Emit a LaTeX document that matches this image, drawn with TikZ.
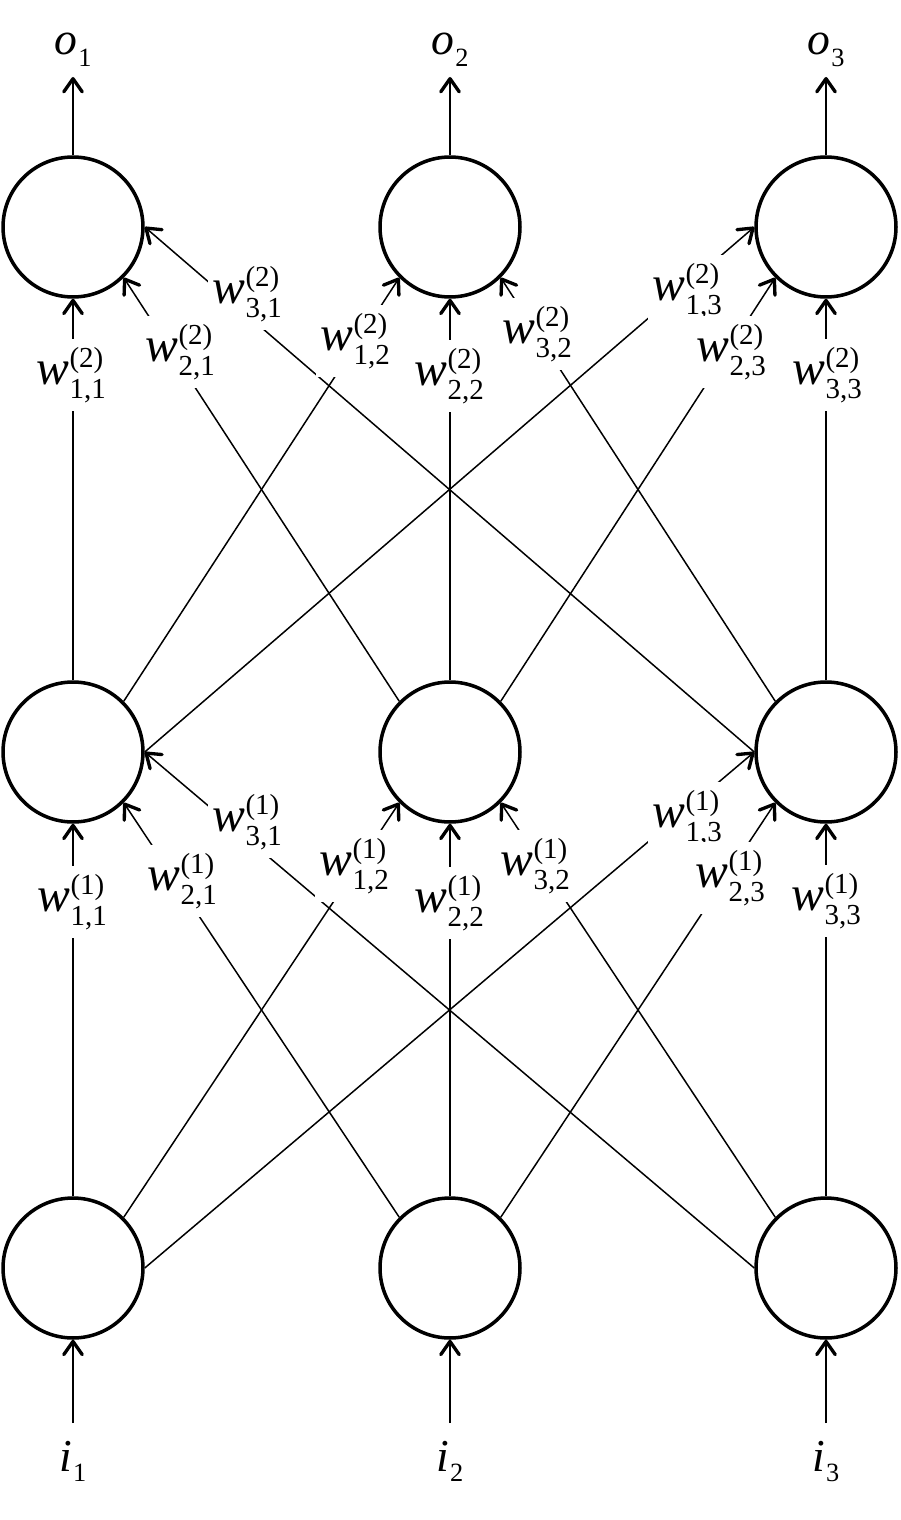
\documentclass[tikz,border=0pt]{standalone}
\usepackage{fontspec}
\setmainfont{Liberation Serif}
\usetikzlibrary{arrows.meta}
\newcommand{\scr}{\fontsize{16.5}{16.5}\selectfont}
\newcommand{\wl}[3]{\textit{w}\kern0.3pt\rlap{\raisebox{9.5pt}{\scr(#1)}}\raisebox{-8pt}{\scr #2,#3}}
\newcommand{\ol}[3]{\textit{#1}\kern0.5pt\raisebox{-#3}{\fontsize{15}{15}\selectfont #2}}
\tikzset{
  neuron/.style={circle, draw, line width=2pt, minimum size=2.8cm, inner sep=0pt},
  conn/.style={line width=0.85pt},
  arr/.style={conn, -{Straight Barb[length=7.5pt,width=10.5pt,line width=1.9pt,round]}},
  wlab/.style={fill=white, inner xsep=2.5pt, inner ysep=5pt, font=\fontsize{28}{34}\selectfont},
  olab/.style={inner xsep=2pt, inner ysep=5.5pt, font=\fontsize{26}{30}\selectfont},
  ilab/.style={inner xsep=2pt, inner ysep=10pt, font=\fontsize{26}{30}\selectfont}
}
\begin{document}
\begin{tikzpicture}[x=0.02cm,y=-0.02cm]
\fill[white] (0,0) rectangle (900,1520);
\useasboundingbox (0,0) rectangle (900,1520);
% neurons
\node[neuron] (t1) at (73,227) {};
\node[neuron] (t2) at (450,227) {};
\node[neuron] (t3) at (826,227) {};
\node[neuron] (m1) at (73,752) {};
\node[neuron] (m2) at (450,752) {};
\node[neuron] (m3) at (826,752) {};
\node[neuron] (b1) at (73,1268) {};
\node[neuron] (b2) at (450,1268) {};
\node[neuron] (b3) at (826,1268) {};
% outputs / inputs
\node[olab, anchor=south] (o1) at (73,77) {\ol{o}{1}{7pt}};
\node[olab, anchor=south] (o2) at (450,77) {\ol{o}{2}{7pt}};
\node[olab, anchor=south] (o3) at (826,77) {\ol{o}{3}{7pt}};
\node[ilab, anchor=north] (i1) at (73,1423) {\ol{i}{1}{5.7pt}};
\node[ilab, anchor=north] (i2) at (450,1423) {\ol{i}{2}{5.7pt}};
\node[ilab, anchor=north] (i3) at (826,1423) {\ol{i}{3}{5.7pt}};
\draw[arr] (t1.north) -- (o1.south);
\draw[arr] (t2.north) -- (o2.south);
\draw[arr] (t3.north) -- (o3.south);
\draw[arr] (i1.north) -- (b1.south);
\draw[arr] (i2.north) -- (b2.south);
\draw[arr] (i3.north) -- (b3.south);
% layer 1
\draw[arr] (b1.north) -- (m1.south);
\draw[arr] (b1.north east) -- (m2.south west);
\draw[arr] (b1.east) -- (m3.west);
\draw[arr] (b2.north west) -- (m1.south east);
\draw[arr] (b2.north) -- (m2.south);
\draw[arr] (b2.north east) -- (m3.south west);
\draw[arr] (b3.west) -- (m1.east);
\draw[arr] (b3.north west) -- (m2.south east);
\draw[arr] (b3.north) -- (m3.south);
% layer 2
\draw[arr] (m1.north) -- (t1.south);
\draw[arr] (m1.north east) -- (t2.south west);
\draw[arr] (m1.east) -- (t3.west);
\draw[arr] (m2.north west) -- (t1.south east);
\draw[arr] (m2.north) -- (t2.south);
\draw[arr] (m2.north east) -- (t3.south west);
\draw[arr] (m3.west) -- (t1.east);
\draw[arr] (m3.north west) -- (t2.south east);
\draw[arr] (m3.north) -- (t3.south);
% weight labels layer 2 (upper ones first)
\node[wlab] (w231) at (247,294) {\wl{2}{3}{1}};
\node[wlab] (w213) at (687,291) {\wl{2}{1}{3}};
\node[wlab] (w232) at (537,334) {\wl{2}{3}{2}};
\node[wlab] (w212) at (355,341) {\wl{2}{1}{2}};
\node[wlab] (w221) at (180,352) {\wl{2}{2}{1}};
\node[wlab] (w223) at (731,352) {\wl{2}{2}{3}};
\node[wlab] (w211) at (71,375) {\wl{2}{1}{1}};
\node[wlab] (w222) at (449,376) {\wl{2}{2}{2}};
\node[wlab] (w233) at (827,375) {\wl{2}{3}{3}};
% weight labels layer 1
\node[wlab] (w131) at (247,822) {\wl{1}{3}{1}};
\node[wlab] (w113) at (687,818) {\wl{1}{1}{3}};
\node[wlab] (w112) at (354,866) {\wl{1}{1}{2}};
\node[wlab] (w132) at (535,866) {\wl{1}{3}{2}};
\node[wlab] (w121) at (182,881) {\wl{1}{2}{1}};
\node[wlab] (w123) at (730,878) {\wl{1}{2}{3}};
\node[wlab] (w111) at (72,902) {\wl{1}{1}{1}};
\node[wlab] (w122) at (449,903) {\wl{1}{2}{2}};
\node[wlab] (w133) at (826,901) {\wl{1}{3}{3}};
\end{tikzpicture}
\end{document}
